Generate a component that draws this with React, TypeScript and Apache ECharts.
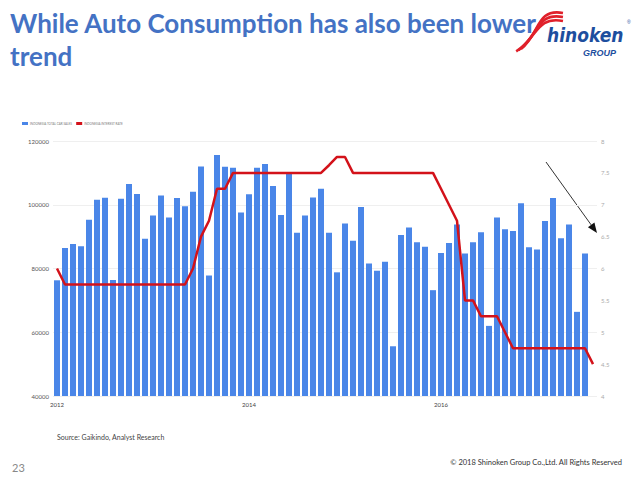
import React, { useEffect, useRef } from "react";
import * as echarts from "echarts";

const months: string[] = [
  "2012-01","2012-02","2012-03","2012-04","2012-05","2012-06","2012-07","2012-08","2012-09","2012-10","2012-11","2012-12",
  "2013-01","2013-02","2013-03","2013-04","2013-05","2013-06","2013-07","2013-08","2013-09","2013-10","2013-11","2013-12",
  "2014-01","2014-02","2014-03","2014-04","2014-05","2014-06","2014-07","2014-08","2014-09","2014-10","2014-11","2014-12",
  "2015-01","2015-02","2015-03","2015-04","2015-05","2015-06","2015-07","2015-08","2015-09","2015-10","2015-11","2015-12",
  "2016-01","2016-02","2016-03","2016-04","2016-05","2016-06","2016-07","2016-08","2016-09","2016-10","2016-11","2016-12",
  "2017-01","2017-02","2017-03","2017-04","2017-05","2017-06","2017-07","2017-08",
];

const carSales: (number | null)[] = [
  76300, 86400, 87700, 87000, 95300, 101600, 102200, 76400, 101900, 106500, 103400, 89300,
  96600, 102900, 96000, 102100, 99500, 104100, 112000, 77800, 115600, 111900, 111600, 97600,
  103300, 111600, 112800, 105900, 96800, 110100, 91200, 96600, 102300, 105000, 91200, 78800,
  94100, 88700, 99300, 81600, 79300, 82100, 55600, 90500, 92900, 88200, 86800, 73200,
  84900, 88000, 93800, 84700, 88200, 91400, 62000, 96000, 92300, 91800, 100500, 86700,
  86000, 94900, 102100, 89500, 93800, 66400, 84700, null,
];

const interestRate: number[] = [
  6.0, 5.75, 5.75, 5.75, 5.75, 5.75, 5.75, 5.75, 5.75, 5.75, 5.75, 5.75,
  5.75, 5.75, 5.75, 5.75, 5.75, 6.0, 6.5, 6.75, 7.25, 7.25, 7.5, 7.5,
  7.5, 7.5, 7.5, 7.5, 7.5, 7.5, 7.5, 7.5, 7.5, 7.5, 7.62, 7.75,
  7.75, 7.5, 7.5, 7.5, 7.5, 7.5, 7.5, 7.5, 7.5, 7.5, 7.5, 7.5,
  7.25, 7.0, 6.75, 5.5, 5.5, 5.25, 5.25, 5.25, 5.0, 4.75, 4.75, 4.75,
  4.75, 4.75, 4.75, 4.75, 4.75, 4.75, 4.75, 4.5,
];

const seriesNames = ["INDONESIA TOTAL CAR SALES", "INDONESIA INTEREST RATE"];
const titleLines = ["While Auto Consumption has also been lower", "trend"];
const sourceText = "Source: Gaikindo, Analyst Research";
const pageNumber = "23";
const copyrightText = "\u00a9 2018 Shinoken Group Co.,Ltd. All Rights Reserved";

export default function App() {
  const ref = useRef<HTMLDivElement>(null);

  useEffect(() => {
    if (!ref.current) return;
    const chart = echarts.init(ref.current, undefined, { renderer: "svg" });

    // arrow geometry (annotation)
    const ax0 = 546, ay0 = 162, tx = 597, ty = 233;
    const dx = tx - ax0, dy = ty - ay0;
    const len = Math.sqrt(dx * dx + dy * dy);
    const ux = dx / len, uy = dy / len;
    const bx = tx - ux * 10, by = ty - uy * 10;
    const px = -uy * 4, py = ux * 4;

    const stripes = [0, 4, 8].map((d) => ({
      type: "bezierCurve",
      shape: {
        x1: 563, y1: 13 + d,
        cpx1: 536, cpy1: 8 + d,
        cpx2: 540 - d * 0.3, cpy2: 34 + d * 0.5,
        x2: 521 - d * 0.6, y2: 49 + d * 0.3,
      },
      style: { stroke: "#e0202a", lineWidth: 2.6, fill: null },
      silent: true,
    }));

    chart.setOption({
      animation: false,
      textStyle: { fontFamily: "Lato, 'Open Sans', sans-serif" },
      title: {
        text: titleLines.join("\n"),
        left: 5,
        top: 1,
        textStyle: {
          color: "#4472C4",
          fontSize: 26,
          fontWeight: "bold",
          lineHeight: 33,
          fontFamily: "Lato, 'Open Sans', sans-serif",
        },
      },
      legend: {
        left: 17,
        top: 117,
        itemWidth: 6,
        itemHeight: 3,
        itemGap: 4,
        icon: "rect",
        textStyle: { fontSize: 3, color: "#777", padding: [0, 0, 0, -3] },
        data: seriesNames,
      },
      grid: { left: 53, right: 43, top: 141, bottom: 84 },
      xAxis: {
        type: "category",
        data: months,
        boundaryGap: true,
        axisLine: { show: false },
        axisTick: { show: false },
        axisLabel: {
          interval: (i: number) => i % 24 === 0,
          formatter: (v: string) => v.slice(0, 4),
          fontSize: 6,
          color: "#444",
          margin: 5,
        },
        splitLine: { show: false },
      },
      yAxis: [
        {
          type: "value",
          min: 40000,
          max: 120000,
          interval: 20000,
          axisLine: { show: false },
          axisTick: { show: false },
          axisLabel: { fontSize: 6, color: "#555", margin: 4, formatter: (v: number) => String(v) },
          splitLine: { lineStyle: { color: "#efefef", width: 1 } },
        },
        {
          type: "value",
          min: 4,
          max: 8,
          interval: 0.5,
          axisLine: { show: false },
          axisTick: { show: false },
          axisLabel: { fontSize: 6, color: "#aaa", margin: 4, formatter: (v: number) => String(v) },
          splitLine: { show: false },
        },
      ],
      series: [
        {
          name: seriesNames[0],
          type: "bar",
          data: carSales,
          barWidth: 6,
          itemStyle: { color: "#4a86e8" },
          yAxisIndex: 0,
          z: 2,
        },
        {
          name: seriesNames[1],
          type: "line",
          data: interestRate,
          yAxisIndex: 1,
          symbol: "none",
          lineStyle: { color: "#d3121a", width: 2.5 },
          itemStyle: { color: "#d3121a" },
          z: 3,
        },
      ],
      graphic: [
        {
          type: "line",
          shape: { x1: ax0, y1: ay0, x2: bx, y2: by },
          style: { stroke: "#333", lineWidth: 1 },
          silent: true,
        },
        {
          type: "polygon",
          shape: { points: [[tx, ty], [bx + px, by + py], [bx - px, by - py]] },
          style: { fill: "#111" },
          silent: true,
        },
        ...stripes,
        {
          type: "text",
          x: 547,
          y: 25,
          style: {
            text: "hinoken",
            fill: "#1d4e9e",
            font: "italic bold 19px 'Liberation Sans Narrow', 'DejaVu Sans Condensed', sans-serif",
          },
          silent: true,
        },
        {
          type: "text",
          x: 583,
          y: 48,
          style: {
            text: "GROUP",
            fill: "#1d4e9e",
            font: "italic bold 9px 'Liberation Sans', sans-serif",
          },
          silent: true,
        },
        {
          type: "text",
          x: 627,
          y: 19,
          style: { text: "\u00ae", fill: "#1d4e9e", font: "5px 'Liberation Sans', sans-serif" },
          silent: true,
        },
        {
          type: "text",
          x: 57,
          y: 433,
          style: { text: sourceText, fill: "#444", font: "7px Lato, sans-serif" },
          silent: true,
        },
        {
          type: "text",
          x: 12,
          y: 462,
          style: { text: pageNumber, fill: "#888", font: "11px Lato, sans-serif" },
          silent: true,
        },
        {
          type: "text",
          x: 622,
          y: 458,
          style: {
            text: copyrightText,
            fill: "#333",
            font: "7.5px Lato, sans-serif",
            align: "right",
          },
          silent: true,
        },
      ],
    });

    return () => chart.dispose();
  }, []);

  return (
    <div
      ref={ref}
      style={{ position: "absolute", left: 0, top: 0, width: 640, height: 480, background: "#fff" }}
    />
  );
}
